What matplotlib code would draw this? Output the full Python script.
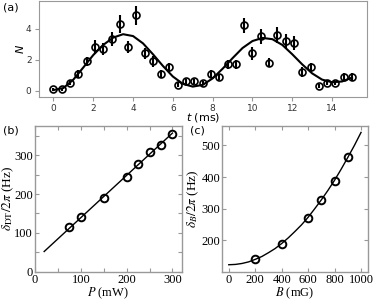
import matplotlib
matplotlib.use('Agg')
import matplotlib.pyplot as plt
from matplotlib.ticker import MultipleLocator

# (a) atom number vs time
t = [0.0, 0.42, 0.83, 1.25, 1.67, 2.08, 2.5, 2.92, 3.33, 3.75, 4.17, 4.58,
     5.0, 5.42, 5.83, 6.25, 6.67, 7.08, 7.5, 7.92, 8.33, 8.75, 9.17, 9.58,
     10.0, 10.42, 10.83, 11.25, 11.67, 12.08, 12.5, 12.92, 13.33, 13.75,
     14.17, 14.58, 15.0]
n = [0.1, 0.1, 0.5, 1.1, 1.9, 2.8, 2.7, 3.3, 4.3, 2.8, 4.85, 2.4,
     1.9, 1.1, 1.5, 0.4, 0.6, 0.6, 0.5, 1.1, 0.9, 1.7, 1.7, 4.2,
     2.4, 3.5, 1.8, 3.6, 3.2, 3.1, 1.2, 1.5, 0.3, 0.5,
     0.5, 0.9, 0.9]
n_err = [0.1, 0.1, 0.15, 0.25, 0.3, 0.45, 0.4, 0.45, 0.6, 0.4, 0.6, 0.35,
         0.35, 0.25, 0.3, 0.15, 0.15, 0.15, 0.15, 0.25, 0.2, 0.3, 0.3, 0.5,
         0.4, 0.5, 0.3, 0.5, 0.45, 0.45, 0.3, 0.3, 0.15, 0.15,
         0.15, 0.25, 0.25]
fit_t = [0, 0.5, 1, 1.5, 2, 2.5, 3, 3.5, 4, 4.5, 5, 5.5, 6, 6.5, 7, 7.5,
         8, 8.5, 9, 9.5, 10, 10.5, 11, 11.5, 12, 12.5, 13, 13.5, 14, 14.5, 15]
fit_n = [0.05, 0.18, 0.72, 1.5, 2.3, 2.95, 3.42, 3.64, 3.52, 3.05, 2.35,
         1.6, 0.92, 0.45, 0.27, 0.38, 0.8, 1.42, 2.1, 2.75, 3.2, 3.4, 3.32,
         2.95, 2.35, 1.7, 1.12, 0.72, 0.55, 0.6, 0.85]

# (b) shift vs power
p = [75, 100, 150, 200, 225, 250, 275, 300]
d_dt = [115, 140, 190, 243, 277, 308, 327, 355]
fit_p = [20, 300]
fit_dt = [52, 357]

# (c) shift vs field
b = [200, 400, 600, 700, 800, 900]
d_b = [142, 188, 272, 326, 389, 462]
fit_b = [0, 50, 100, 150, 200, 250, 300, 350, 400, 450, 500, 550, 600, 650,
         700, 750, 800, 850, 900, 950, 1000]
fit_db = [123, 124, 127, 132, 140, 149, 161, 174, 190, 208, 228, 249, 273,
          300, 328, 358, 390, 425, 462, 500, 541]

spine_col = '#999999'

fig = plt.figure(figsize=(3.74, 2.99), dpi=100)

ax1 = fig.add_axes([0.103, 0.677, 0.878, 0.321])
ax1.errorbar(t, n, yerr=n_err, fmt='o', mfc='none', mec='black', ecolor='black',
             ms=5, mew=1.2, elinewidth=1.5, capsize=0)
ax1.plot(fit_t, fit_n, color='black', lw=1.5)
ax1.set_xlim(-0.75, 15.75)
ax1.set_ylim(-0.37, 5.8)
ax1.set_xticks([0, 2, 4, 6, 8, 10, 12, 14])
ax1.set_yticks([0, 2, 4])
ax1.tick_params(labelsize=6.5, length=3, pad=2, color=spine_col, labelcolor='#333333')
ax1.set_xlabel('$t$ (ms)', fontsize=8, labelpad=-1)
ax1.set_ylabel('$N$', fontsize=8, labelpad=0)
for s in ax1.spines.values():
    s.set_color(spine_col)

serif = {'family': 'Liberation Serif'}
plt.rcParams['mathtext.fontset'] = 'stix'

ax2 = fig.add_axes([0.0936, 0.0913, 0.392, 0.487])
ax2.plot(fit_p, fit_dt, color='black', lw=1)
ax2.plot(p, d_dt, 'o', mfc='none', mec='black', ms=5.5, mew=1.4)
ax2.set_xlim(0, 320)
ax2.set_ylim(0, 375)
ax2.xaxis.set_major_locator(MultipleLocator(100))
ax2.xaxis.set_minor_locator(MultipleLocator(50))
ax2.yaxis.set_major_locator(MultipleLocator(100))
ax2.yaxis.set_minor_locator(MultipleLocator(50))
ax2.set_xlabel('$P$ (mW)', fontsize=9, labelpad=-0.5, **serif)
ax2.set_ylabel(r'$\delta_{\rm DT}/2\pi$ (Hz)', fontsize=9.5, labelpad=-1, **serif)

ax3 = fig.add_axes([0.594, 0.0913, 0.389, 0.487])
ax3.plot(fit_b, fit_db, color='black', lw=1)
ax3.plot(b, d_b, 'o', mfc='none', mec='black', ms=5.5, mew=1.4)
ax3.set_xlim(-50, 1050)
ax3.set_ylim(101, 561)
ax3.xaxis.set_major_locator(MultipleLocator(200))
ax3.set_yticks([200, 300, 400, 500])
ax3.set_xlabel('$B$ (mG)', fontsize=9, labelpad=-0.5, **serif)
ax3.set_ylabel(r'$\delta_B/2\pi$ (Hz)', fontsize=9.5, labelpad=0, **serif)

for ax in (ax2, ax3):
    ax.tick_params(which='both', direction='in', top=True, right=True,
                   length=3, width=0.8, color=spine_col, labelsize=9, pad=1.5)
    for lab in ax.get_xticklabels() + ax.get_yticklabels():
        lab.set_fontfamily('Liberation Serif')
    for s in ax.spines.values():
        s.set_color(spine_col)
        s.set_linewidth(1)

fig.text(0.008, 0.975, '(a)', fontsize=8, va='center')
fig.text(0.008, 0.563, '(b)', fontsize=8, va='center')
fig.text(0.508, 0.563, '(c)', fontsize=8, va='center')

fig.savefig('out.png', dpi=100)
